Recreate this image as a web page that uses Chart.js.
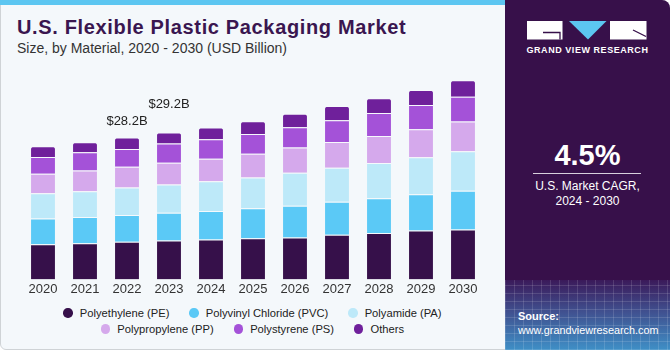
<!DOCTYPE html>
<html>
<head>
<meta charset="utf-8">
<script src="https://cdn.jsdelivr.net/npm/chart.js@4.4.1/dist/chart.umd.min.js"></script>
<style>
  html, body { margin: 0; padding: 0; }
  body { width: 670px; height: 350px; position: relative; overflow: hidden; background: #fff;
         font-family: "Liberation Sans", Arial, sans-serif; }
  #card { position: absolute; left: 0; top: 0; width: 668px; height: 348px; background: #f4f8fb;
          border: 1px solid #cfd3d6; border-radius: 0 8px 6px 6px; }
  #strip { position: absolute; left: 0; top: 0; width: 505px; height: 5px; background: #5cc6f1; }
  #title { position: absolute; left: 17px; top: 16px; font-size: 20px; font-weight: bold;
           color: #3a1650; letter-spacing: 0.65px; white-space: nowrap; }
  #subtitle { position: absolute; left: 17px; top: 40px; font-size: 14px; color: #333; white-space: nowrap; }
  #chartBox { position: absolute; left: 22px; top: 48px; width: 462px; height: 251px; }
  #legend { position: absolute; left: 0; top: 305px; width: 505px; font-size: 11.2px; color: #222; }
  .row { display: flex; justify-content: center; height: 16px; align-items: center; }
  .item { display: flex; align-items: center; margin: 0 10px; white-space: nowrap; }
  .dot { width: 9.4px; height: 9.4px; border-radius: 50%; margin-right: 7px; }
  #panel { position: absolute; left: 505px; top: 0; width: 165px; height: 350px; background: #37104a;
           border-radius: 0 8px 0 0; overflow: hidden; color: #fff; }
  #grid { position: absolute; left: 0; top: 280px; width: 165px; height: 70px;
          background:
            repeating-linear-gradient(90deg, rgba(255,255,255,0.13) 0 1px, transparent 1px 9px),
            repeating-linear-gradient(0deg, rgba(255,255,255,0.13) 0 1px, transparent 1px 8px),
            linear-gradient(180deg, #3b1a5a 0%, #40508f 45%, #3f8fc6 100%); }
  #gvr { position: absolute; left: 0; top: 45px; width: 165px; text-align: center; font-size: 9px;
         font-weight: bold; letter-spacing: 0.55px; }
  #cagr { position: absolute; left: 0; top: 139px; width: 165px; text-align: center; font-size: 29px; font-weight: bold; }
  #rule { position: absolute; left: 28px; top: 173px; width: 108px; height: 1px; background: #d8d0dd; }
  #cagrText { position: absolute; left: 0; top: 179px; width: 165px; text-align: center; font-size: 12px; line-height: 15px; }
  #source { position: absolute; left: 13px; top: 309px; font-size: 10.8px; line-height: 14px; }
</style>
</head>
<body>
<div id="card"></div>
<div id="strip"></div>
<div id="title">U.S. Flexible Plastic Packaging Market</div>
<div id="subtitle">Size, by Material, 2020 - 2030 (USD Billion)</div>
<div id="chartBox"><canvas id="barChart"></canvas></div>
<div id="legend"></div>
<div id="panel">
  <div id="grid"></div>
  <svg style="position:absolute;left:0;top:0" width="165" height="45">
    <rect x="22" y="21" width="35.5" height="18.5" fill="#fff"/>
    <path d="M38 32.5 H55 V39.5" stroke="#37104a" stroke-width="1.3" fill="none"/>
    <polygon points="64,21 101.5,21 83,39.5" fill="#5cc6f1"/>
    <rect x="105" y="21" width="36.5" height="18.5" fill="#fff"/>
    <path d="M128 30 L141 36.5" stroke="#37104a" stroke-width="1.3"/>
  </svg>
  <div id="gvr">GRAND VIEW RESEARCH</div>
  <div id="cagr">4.5%</div>
  <div id="rule"></div>
  <div id="cagrText">U.S. Market CAGR,<br>2024 - 2030</div>
  <div id="source"><b style="font-size:11px">Source:</b><br>www.grandviewresearch.com</div>
</div>
<script>
const years = ['2020','2021','2022','2023','2024','2025','2026','2027','2028','2029','2030'];
const polyethylene = [7.0, 7.2, 7.46, 7.72, 7.92, 8.2, 8.32, 8.86, 9.2, 9.72, 9.92];
const pvc          = [5.12, 5.2, 5.34, 5.54, 5.68, 5.92, 6.34, 6.6, 6.92, 7.2, 7.68];
const polyamide    = [5.0, 5.12, 5.46, 5.6, 5.92, 6.14, 6.54, 6.74, 7.0, 7.34, 7.86];
const polypropylene = [3.88, 4.14, 4.14, 4.34, 4.48, 4.74, 5.0, 5.12, 5.4, 5.6, 5.94];
const polystyrene  = [3.32, 3.6, 3.52, 3.8, 3.86, 3.92, 4.06, 4.34, 4.54, 4.8, 4.92];
const others       = [2.14, 2.0, 2.28, 2.2, 2.34, 2.54, 2.66, 2.8, 2.94, 3.0, 3.28];
const totalLabels  = ['', '', '$28.2B', '$29.2B', '', '', '', '', '', '', ''];

const sep = 'rgba(255,255,255,0.22)';
function series(label, data, color) {
  return { label, data, backgroundColor: color, borderColor: sep, borderWidth: { top: 1 } };
}
const datasets = [
  series('Polyethylene (PE)', polyethylene, '#36104a'),
  series('Polyvinyl Chloride (PVC)', pvc, '#5bc9f6'),
  series('Polyamide (PA)', polyamide, '#bde9f9'),
  series('Polypropylene (PP)', polypropylene, '#d5a9ec'),
  series('Polystyrene (PS)', polystyrene, '#a452d8'),
  series('Others', others, '#6f209b')
];
datasets[5].borderRadius = { topLeft: 2.5, topRight: 2.5 };
datasets[5].borderSkipped = 'bottom';

// lift of the two callouts above their bar tops
const calloutLift = { 2: 16, 3: 28 };
const callouts = {
  id: 'callouts',
  afterDatasetsDraw(chart) {
    const meta = chart.getDatasetMeta(chart.data.datasets.length - 1);
    const ctx = chart.ctx;
    ctx.save();
    ctx.font = '13px "Liberation Sans", Arial, sans-serif';
    ctx.fillStyle = '#222';
    ctx.textAlign = 'center';
    ctx.textBaseline = 'middle';
    totalLabels.forEach((t, i) => {
      if (!t) return;
      const bar = meta.data[i];
      ctx.fillText(t, bar.x, bar.y - (calloutLift[i] || 16));
    });
    ctx.restore();
  }
};

const chart = new Chart(document.getElementById('barChart'), {
  type: 'bar',
  data: { labels: years, datasets },
  options: {
    responsive: true,
    maintainAspectRatio: false,
    animation: false,
    layout: { padding: 0 },
    plugins: { legend: { display: false }, tooltip: { enabled: false } },
    scales: {
      x: {
        stacked: true,
        grid: { display: false, drawTicks: false },
        border: { display: false },
        ticks: { color: '#333', padding: 2, font: { size: 13, family: '"Liberation Sans", Arial, sans-serif' } }
      },
      y: { stacked: true, display: false, min: 0, max: 46 }
    },
    datasets: { bar: { barPercentage: 0.57, categoryPercentage: 1 } }
  },
  plugins: [callouts]
});

/* HTML legend, two rows of three */
const legend = document.getElementById('legend');
[[0, 1, 2], [3, 4, 5]].forEach(idx => {
  const row = document.createElement('div');
  row.className = 'row';
  idx.forEach(i => {
    const ds = chart.data.datasets[i];
    const item = document.createElement('div');
    item.className = 'item';
    item.innerHTML = '<span class="dot" style="background:' + ds.backgroundColor + '"></span>' + ds.label;
    row.appendChild(item);
  });
  legend.appendChild(row);
});
</script>
</body>
</html>
